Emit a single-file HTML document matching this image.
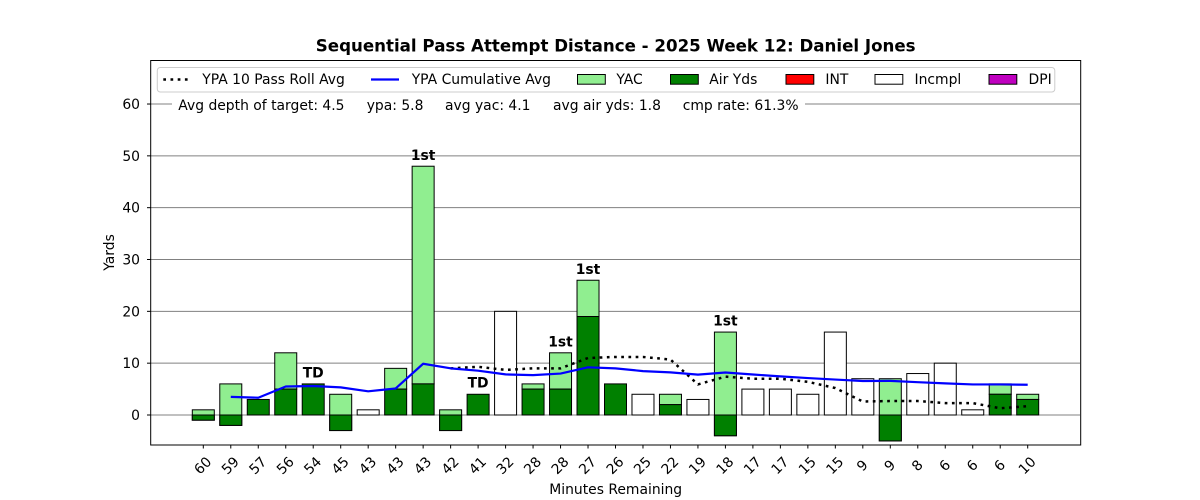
<!DOCTYPE html>
<html>
<head>
<meta charset="utf-8">
<style>
html,body{margin:0;padding:0;background:#fff;}
svg{display:block;}
text{font-family:"DejaVu Sans","Liberation Sans",sans-serif;fill:#000;}
</style>
</head>
<body>
<svg width="1200" height="500" viewBox="0 0 1200 500" xmlns="http://www.w3.org/2000/svg">
<rect x="0" y="0" width="1200" height="500" fill="#fff"/>

<!-- title -->
<text x="615.7" y="51.7" font-size="16.67" font-weight="bold" text-anchor="middle">Sequential Pass Attempt Distance - 2025 Week 12: Daniel Jones</text>

<!-- gridlines -->
<g stroke="#808080" stroke-width="1">
<line x1="151" y1="415" x2="1080" y2="415"/>
<line x1="151" y1="363.17" x2="1080" y2="363.17"/>
<line x1="151" y1="311.34" x2="1080" y2="311.34"/>
<line x1="151" y1="259.51" x2="1080" y2="259.51"/>
<line x1="151" y1="207.68" x2="1080" y2="207.68"/>
<line x1="151" y1="155.85" x2="1080" y2="155.85"/>
<line x1="151" y1="104.02" x2="1080" y2="104.02"/>
</g>

<!-- bars -->
<g stroke="#000" stroke-width="1">
<rect x="192.30" y="409.82" width="22" height="10.36" fill="#90ee90"/><rect x="192.30" y="415" width="22" height="5.18" fill="#008000"/>
<rect x="219.78" y="383.90" width="22" height="41.47" fill="#90ee90"/><rect x="219.78" y="415" width="22" height="10.37" fill="#008000"/>
<rect x="247.26" y="399.45" width="22" height="15.55" fill="#008000"/>
<rect x="274.74" y="352.80" width="22" height="36.29" fill="#90ee90"/><rect x="274.74" y="389.09" width="22" height="25.91" fill="#008000"/>
<rect x="302.22" y="383.90" width="22" height="31.10" fill="#008000"/>
<rect x="329.70" y="394.27" width="22" height="36.28" fill="#90ee90"/><rect x="329.70" y="415" width="22" height="15.55" fill="#008000"/>
<rect x="357.18" y="409.82" width="22" height="5.18" fill="#fff"/>
<rect x="384.66" y="368.35" width="22" height="20.74" fill="#90ee90"/><rect x="384.66" y="389.09" width="22" height="25.91" fill="#008000"/>
<rect x="412.14" y="166.22" width="22" height="217.68" fill="#90ee90"/><rect x="412.14" y="383.90" width="22" height="31.10" fill="#008000"/>
<rect x="439.62" y="409.82" width="22" height="20.73" fill="#90ee90"/><rect x="439.62" y="415" width="22" height="15.55" fill="#008000"/>
<rect x="467.10" y="394.27" width="22" height="20.73" fill="#008000"/>
<rect x="494.58" y="311.34" width="22" height="103.66" fill="#fff"/>
<rect x="522.06" y="383.90" width="22" height="5.19" fill="#90ee90"/><rect x="522.06" y="389.09" width="22" height="25.91" fill="#008000"/>
<rect x="549.54" y="352.80" width="22" height="36.29" fill="#90ee90"/><rect x="549.54" y="389.09" width="22" height="25.91" fill="#008000"/>
<rect x="577.02" y="280.24" width="22" height="36.28" fill="#90ee90"/><rect x="577.02" y="316.52" width="22" height="98.48" fill="#008000"/>
<rect x="604.50" y="383.90" width="22" height="31.10" fill="#008000"/>
<rect x="631.98" y="394.27" width="22" height="20.73" fill="#fff"/>
<rect x="659.46" y="394.27" width="22" height="10.36" fill="#90ee90"/><rect x="659.46" y="404.63" width="22" height="10.37" fill="#008000"/>
<rect x="686.94" y="399.45" width="22" height="15.55" fill="#fff"/>
<rect x="714.42" y="332.07" width="22" height="103.66" fill="#90ee90"/><rect x="714.42" y="415" width="22" height="20.73" fill="#008000"/>
<rect x="741.90" y="389.09" width="22" height="25.91" fill="#fff"/>
<rect x="769.38" y="389.09" width="22" height="25.91" fill="#fff"/>
<rect x="796.86" y="394.27" width="22" height="20.73" fill="#fff"/>
<rect x="824.34" y="332.07" width="22" height="82.93" fill="#fff"/>
<rect x="851.82" y="378.72" width="22" height="36.28" fill="#fff"/>
<rect x="879.30" y="378.72" width="22" height="62.20" fill="#90ee90"/><rect x="879.30" y="415" width="22" height="25.92" fill="#008000"/>
<rect x="906.78" y="373.54" width="22" height="41.46" fill="#fff"/>
<rect x="934.26" y="363.17" width="22" height="51.83" fill="#fff"/>
<rect x="961.74" y="409.82" width="22" height="5.18" fill="#fff"/>
<rect x="989.22" y="383.90" width="22" height="10.37" fill="#90ee90"/><rect x="989.22" y="394.27" width="22" height="20.73" fill="#008000"/>
<rect x="1016.70" y="394.27" width="22" height="5.18" fill="#90ee90"/><rect x="1016.70" y="399.45" width="22" height="15.55" fill="#008000"/>
</g>

<!-- rolling avg dotted -->
<polyline fill="none" stroke="#000" stroke-width="2.5" stroke-dasharray="2.7 4.5" points="450.62,368.35 478.10,366.80 505.58,369.91 533.06,368.35 560.54,368.35 588.02,357.99 615.50,356.95 642.98,356.95 670.46,359.54 697.94,384.42 725.42,376.65 752.90,378.72 780.38,378.72 807.86,381.83 835.34,388.05 862.82,401.52 890.30,401.01 917.78,401.01 945.26,403.08 972.74,403.08 1000.22,408.26 1027.70,406.19"/>

<!-- cumulative avg -->
<polyline fill="none" stroke="#0000ff" stroke-width="2.2" stroke-linejoin="round" points="230.78,396.86 258.26,397.72 285.74,386.49 313.22,385.98 340.70,387.36 368.18,391.31 395.66,388.44 423.14,363.75 450.62,368.35 478.10,370.71 505.58,374.40 533.06,375.13 560.54,373.54 588.02,367.32 615.50,368.35 642.98,371.10 670.46,372.39 697.94,374.63 725.42,372.50 752.90,374.52 780.38,376.36 807.86,378.04 835.34,379.58 862.82,381.00 890.30,380.91 917.78,382.18 945.26,383.35 972.74,384.44 1000.22,384.42 1027.70,384.74"/>

<!-- annotations -->
<g font-size="13.9" font-weight="bold" text-anchor="middle">
<text x="313.22" y="377.3">TD</text>
<text x="478.10" y="387.7">TD</text>
<text x="423.14" y="159.8">1st</text>
<text x="560.54" y="346.4">1st</text>
<text x="588.02" y="273.8">1st</text>
<text x="725.42" y="325.6">1st</text>
</g>

<!-- stats text -->
<rect x="172" y="95" width="633" height="20" fill="#fff"/>
<g font-size="13.9">
<text x="178.3" y="110">Avg depth of target: 4.5</text>
<text x="366.7" y="110">ypa: 5.8</text>
<text x="445" y="110">avg yac: 4.1</text>
<text x="553" y="110">avg air yds: 1.8</text>
<text x="682.7" y="110">cmp rate: 61.3%</text>
</g>

<!-- legend -->
<rect x="157.3" y="67.5" width="897.5" height="24.5" rx="3" ry="3" fill="#fff" fill-opacity="0.8" stroke="#cccccc" stroke-width="1"/>
<line x1="163.3" y1="79.5" x2="191.1" y2="79.5" stroke="#000" stroke-width="2.5" stroke-dasharray="2.7 4.5"/>
<line x1="371" y1="79.5" x2="399" y2="79.5" stroke="#0000ff" stroke-width="2.2"/>
<g stroke="#000" stroke-width="1">
<rect x="577.5" y="74.5" width="27.8" height="9.7" fill="#90ee90"/>
<rect x="670.5" y="74.5" width="27.8" height="9.7" fill="#008000"/>
<rect x="786" y="74.5" width="27.8" height="9.7" fill="#ff0000"/>
<rect x="875" y="74.5" width="27.8" height="9.7" fill="#fff"/>
<rect x="989" y="74.5" width="27.8" height="9.7" fill="#bf00bf"/>
</g>
<g font-size="13.9">
<text x="202.3" y="84">YPA 10 Pass Roll Avg</text>
<text x="411.7" y="84">YPA Cumulative Avg</text>
<text x="616.4" y="84">YAC</text>
<text x="709.3" y="84">Air Yds</text>
<text x="825.4" y="84">INT</text>
<text x="914.5" y="84">Incmpl</text>
<text x="1028.5" y="84">DPI</text>
</g>

<!-- axes spines -->
<rect x="150.7" y="60.5" width="930" height="384.5" fill="none" stroke="#000" stroke-width="1"/>

<!-- y ticks -->
<g stroke="#000" stroke-width="1">
<line x1="147" y1="415" x2="150.7" y2="415"/>
<line x1="147" y1="363.17" x2="150.7" y2="363.17"/>
<line x1="147" y1="311.34" x2="150.7" y2="311.34"/>
<line x1="147" y1="259.51" x2="150.7" y2="259.51"/>
<line x1="147" y1="207.68" x2="150.7" y2="207.68"/>
<line x1="147" y1="155.85" x2="150.7" y2="155.85"/>
<line x1="147" y1="104.02" x2="150.7" y2="104.02"/>
</g>
<g font-size="13.9" text-anchor="end">
<text x="140" y="420">0</text>
<text x="140" y="368.2">10</text>
<text x="140" y="316.3">20</text>
<text x="140" y="264.5">30</text>
<text x="140" y="212.7">40</text>
<text x="140" y="160.9">50</text>
<text x="140" y="109">60</text>
</g>
<text transform="translate(114,252.5) rotate(-90)" font-size="13.9" text-anchor="middle">Yards</text>

<!-- x ticks -->
<g stroke="#000" stroke-width="1">
<line x1="203.30" y1="445" x2="203.30" y2="448.5"/><line x1="230.78" y1="445" x2="230.78" y2="448.5"/><line x1="258.26" y1="445" x2="258.26" y2="448.5"/><line x1="285.74" y1="445" x2="285.74" y2="448.5"/><line x1="313.22" y1="445" x2="313.22" y2="448.5"/><line x1="340.70" y1="445" x2="340.70" y2="448.5"/><line x1="368.18" y1="445" x2="368.18" y2="448.5"/><line x1="395.66" y1="445" x2="395.66" y2="448.5"/><line x1="423.14" y1="445" x2="423.14" y2="448.5"/><line x1="450.62" y1="445" x2="450.62" y2="448.5"/><line x1="478.10" y1="445" x2="478.10" y2="448.5"/><line x1="505.58" y1="445" x2="505.58" y2="448.5"/><line x1="533.06" y1="445" x2="533.06" y2="448.5"/><line x1="560.54" y1="445" x2="560.54" y2="448.5"/><line x1="588.02" y1="445" x2="588.02" y2="448.5"/><line x1="615.50" y1="445" x2="615.50" y2="448.5"/><line x1="642.98" y1="445" x2="642.98" y2="448.5"/><line x1="670.46" y1="445" x2="670.46" y2="448.5"/><line x1="697.94" y1="445" x2="697.94" y2="448.5"/><line x1="725.42" y1="445" x2="725.42" y2="448.5"/><line x1="752.90" y1="445" x2="752.90" y2="448.5"/><line x1="780.38" y1="445" x2="780.38" y2="448.5"/><line x1="807.86" y1="445" x2="807.86" y2="448.5"/><line x1="835.34" y1="445" x2="835.34" y2="448.5"/><line x1="862.82" y1="445" x2="862.82" y2="448.5"/><line x1="890.30" y1="445" x2="890.30" y2="448.5"/><line x1="917.78" y1="445" x2="917.78" y2="448.5"/><line x1="945.26" y1="445" x2="945.26" y2="448.5"/><line x1="972.74" y1="445" x2="972.74" y2="448.5"/><line x1="1000.22" y1="445" x2="1000.22" y2="448.5"/><line x1="1027.70" y1="445" x2="1027.70" y2="448.5"/>
</g>
<g font-size="13.9" text-anchor="middle" dominant-baseline="central">
<text transform="translate(203.30,466) rotate(-45)">60</text>
<text transform="translate(230.78,466) rotate(-45)">59</text>
<text transform="translate(258.26,466) rotate(-45)">57</text>
<text transform="translate(285.74,466) rotate(-45)">56</text>
<text transform="translate(313.22,466) rotate(-45)">54</text>
<text transform="translate(340.70,466) rotate(-45)">45</text>
<text transform="translate(368.18,466) rotate(-45)">43</text>
<text transform="translate(395.66,466) rotate(-45)">43</text>
<text transform="translate(423.14,466) rotate(-45)">43</text>
<text transform="translate(450.62,466) rotate(-45)">42</text>
<text transform="translate(478.10,466) rotate(-45)">41</text>
<text transform="translate(505.58,466) rotate(-45)">32</text>
<text transform="translate(533.06,466) rotate(-45)">28</text>
<text transform="translate(560.54,466) rotate(-45)">28</text>
<text transform="translate(588.02,466) rotate(-45)">27</text>
<text transform="translate(615.50,466) rotate(-45)">26</text>
<text transform="translate(642.98,466) rotate(-45)">25</text>
<text transform="translate(670.46,466) rotate(-45)">22</text>
<text transform="translate(697.94,466) rotate(-45)">19</text>
<text transform="translate(725.42,466) rotate(-45)">18</text>
<text transform="translate(752.90,466) rotate(-45)">17</text>
<text transform="translate(780.38,466) rotate(-45)">17</text>
<text transform="translate(807.86,466) rotate(-45)">15</text>
<text transform="translate(835.34,466) rotate(-45)">15</text>
<text transform="translate(862.82,466) rotate(-45)">9</text>
<text transform="translate(890.30,466) rotate(-45)">9</text>
<text transform="translate(917.78,466) rotate(-45)">8</text>
<text transform="translate(945.26,466) rotate(-45)">6</text>
<text transform="translate(972.74,466) rotate(-45)">6</text>
<text transform="translate(1000.22,466) rotate(-45)">6</text>
<text transform="translate(1027.70,466) rotate(-45)">10</text>
</g>
<text x="615.7" y="494" font-size="13.9" text-anchor="middle">Minutes Remaining</text>
</svg>
</body>
</html>
